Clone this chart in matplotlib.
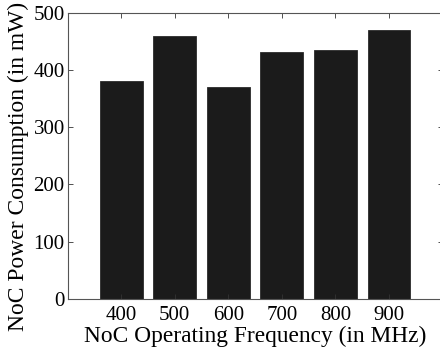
import numpy as np
import matplotlib
matplotlib.use("Agg")
import matplotlib.pyplot as plt

# ---- Data
frequencies = ["400", "500", "600", "700", "800", "900"]
power_mw = [380, 459, 371, 431, 434, 470]

plt.rcParams["font.family"] = ["Liberation Serif", "DejaVu Serif"]

fig = plt.figure(figsize=(4.4, 3.51), dpi=100)
ax = fig.add_axes([67.5 / 440, 52 / 351, 375 / 440, 286.3 / 351])

x = np.arange(1, len(frequencies) + 1)
ax.bar(x, power_mw, width=0.8, color="#1b1b1b", edgecolor="#2a2a2a", linewidth=0.6)

# ---- Axes
ax.set_xlim(0, 7)
ax.set_ylim(0, 500)
ax.set_xticks(x)
ax.set_xticklabels(frequencies)
ax.set_yticks(np.arange(0, 501, 100))
ax.tick_params(direction="in", length=3.5, width=0.6, top=True, right=True,
               labelsize=15, colors="#333333", labelcolor="black")
ax.tick_params(axis="x", pad=5.0)
ax.tick_params(axis="y", pad=2)
for s in ax.spines.values():
    s.set_linewidth(0.8)
    s.set_color("#555555")

ax.set_xlabel("NoC Operating Frequency (in MHz)", fontsize=16.8, labelpad=0.3)
ax.set_ylabel("NoC Power Consumption (in mW)", fontsize=16.9)
# label sits a little below the axes centre in the original
ax.yaxis.set_label_coords(-0.103, (299 - 166) / 286.3)

fig.savefig("out.png", dpi=100)
